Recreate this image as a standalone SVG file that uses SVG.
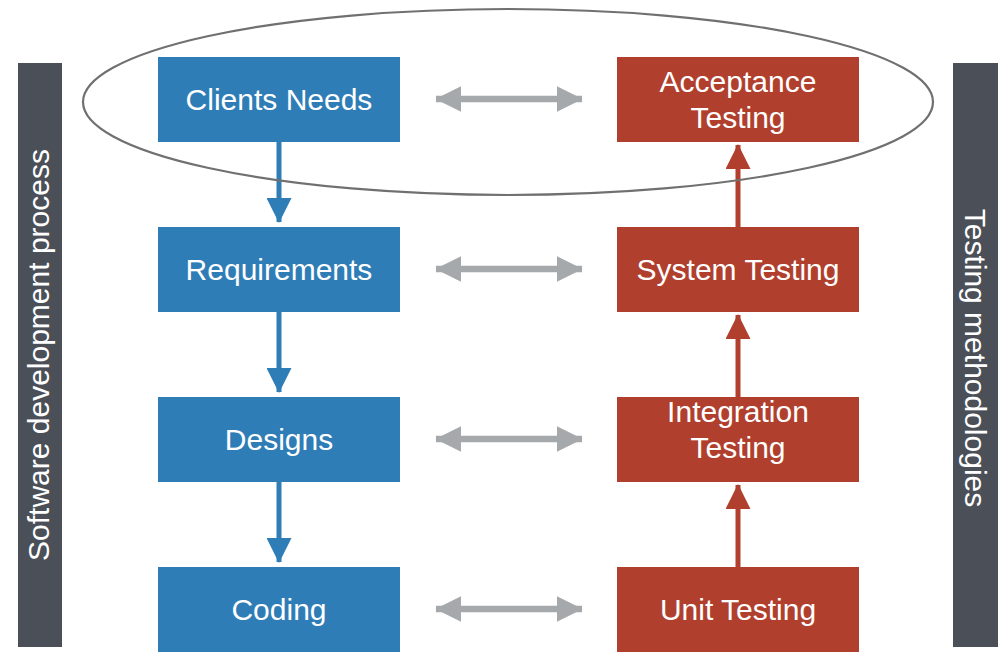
<svg xmlns="http://www.w3.org/2000/svg" width="1005" height="652" viewBox="0 0 1005 652">
<defs>
<style>
.blue{fill:#2f7db6;}
.red{fill:#b0402d;}
.bar{fill:#4b4f58;}
.t{font-family:"Liberation Sans",Arial,sans-serif;font-size:30px;fill:#ffffff;text-anchor:middle;}
.s{font-family:"Liberation Sans",Arial,sans-serif;font-size:30px;fill:#ffffff;text-anchor:middle;}
</style>
<marker id="hb" markerWidth="5" markerHeight="5" refX="4.8" refY="2.5" orient="auto" markerUnits="strokeWidth" viewBox="0 0 5 5"><path d="M0,0 L5,2.5 L0,5 Z" fill="#2f7db6"/></marker>
<marker id="hr" markerWidth="5" markerHeight="5" refX="4.8" refY="2.5" orient="auto" markerUnits="strokeWidth" viewBox="0 0 5 5"><path d="M0,0 L5,2.5 L0,5 Z" fill="#b0402d"/></marker>
<marker id="hg" markerWidth="4" markerHeight="4" refX="3.9" refY="2" orient="auto-start-reverse" markerUnits="strokeWidth" viewBox="0 0 4 4"><path d="M0,0 L4,2 L0,4 Z" fill="#a6a9ab"/></marker>
</defs>
<rect width="1005" height="652" fill="#ffffff"/>
<g id="bar-left"><rect class="bar" x="18" y="63" width="44" height="584"/><text class="s" transform="translate(49,355) rotate(-90)">Software development process</text></g>
<g id="bar-right"><rect class="bar" x="953" y="63" width="45" height="584"/><text class="s" transform="translate(965,358) rotate(90)">Testing methodologies</text></g>
<g id="n-clients"><rect class="blue" x="158" y="57" width="242" height="85"/><text class="t" x="279" y="110">Clients Needs</text></g>
<g id="n-req"><rect class="blue" x="158" y="227" width="242" height="85"/><text class="t" x="279" y="280">Requirements</text></g>
<g id="n-des"><rect class="blue" x="158" y="397" width="242" height="85"/><text class="t" x="279" y="450">Designs</text></g>
<g id="n-cod"><rect class="blue" x="158" y="567" width="242" height="85"/><text class="t" x="279" y="620">Coding</text></g>
<g id="n-acc"><rect class="red" x="617" y="57" width="242" height="85"/><text class="t" x="738" y="92">Acceptance</text><text class="t" x="738" y="128">Testing</text></g>
<g id="n-sys"><rect class="red" x="617" y="227" width="242" height="85"/><text class="t" x="738" y="280">System Testing</text></g>
<g id="n-int"><rect class="red" x="617" y="397" width="242" height="85"/><text class="t" x="738" y="422">Integration</text><text class="t" x="738" y="458">Testing</text></g>
<g id="n-unit"><rect class="red" x="617" y="567" width="242" height="85"/><text class="t" x="738" y="620">Unit Testing</text></g>
<g id="connectors">
<line x1="279" y1="142" x2="279" y2="222" stroke="#2f7db6" stroke-width="5" marker-end="url(#hb)"/>
<line x1="279" y1="312" x2="279" y2="392" stroke="#2f7db6" stroke-width="5" marker-end="url(#hb)"/>
<line x1="279" y1="482" x2="279" y2="562" stroke="#2f7db6" stroke-width="5" marker-end="url(#hb)"/>
<line x1="738" y1="227" x2="738" y2="145" stroke="#b0402d" stroke-width="5" marker-end="url(#hr)"/>
<line x1="738" y1="397" x2="738" y2="315" stroke="#b0402d" stroke-width="5" marker-end="url(#hr)"/>
<line x1="738" y1="567" x2="738" y2="485" stroke="#b0402d" stroke-width="5" marker-end="url(#hr)"/>
<line x1="436" y1="99" x2="582" y2="99" stroke="#a6a9ab" stroke-width="6.5" marker-start="url(#hg)" marker-end="url(#hg)"/>
<line x1="436" y1="269" x2="582" y2="269" stroke="#a6a9ab" stroke-width="6.5" marker-start="url(#hg)" marker-end="url(#hg)"/>
<line x1="436" y1="439" x2="582" y2="439" stroke="#a6a9ab" stroke-width="6.5" marker-start="url(#hg)" marker-end="url(#hg)"/>
<line x1="436" y1="609" x2="582" y2="609" stroke="#a6a9ab" stroke-width="6.5" marker-start="url(#hg)" marker-end="url(#hg)"/>
</g>
<ellipse id="ellipse" cx="508" cy="102" rx="425" ry="93" fill="none" stroke="#707070" stroke-width="2.2"/>
</svg>
